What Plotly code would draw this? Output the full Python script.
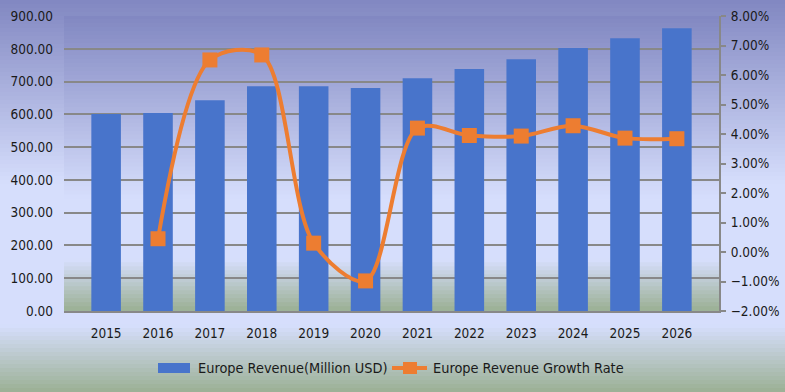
import plotly.graph_objects as go

years = ["2015", "2016", "2017", "2018", "2019", "2020", "2021", "2022", "2023", "2024", "2025", "2026"]
revenue = [601, 604, 643, 686, 686, 680, 710, 738, 768, 802, 832, 863]
growth = [None, 0.0045, 0.0651, 0.0668, 0.0030, -0.0098, 0.0420, 0.0395, 0.0393, 0.0428, 0.0386, 0.0384]

left_ticks = [0, 100, 200, 300, 400, 500, 600, 700, 800, 900]
right_ticks = [-0.02, -0.01, 0, 0.01, 0.02, 0.03, 0.04, 0.05, 0.06, 0.07, 0.08]

bar_name = "Europe Revenue(Million USD)"
line_name = "Europe Revenue Growth Rate"

W, H = 785, 392
ML, MR, MT, MB = 64, 66, 16, 81
pw = W - ML - MR
ph = H - MT - MB

BAR_COLOR = "#4874CB"
LINE_COLOR = "#ED7D31"
PURPLE = (129, 135, 193)
LIGHT = (214, 222, 252)
GREEN = (155, 176, 148)
FONT = "DejaVu Sans Condensed"


def px_x(px):
    return (px - ML) / pw


def px_y(py):
    return (H - MB - py) / ph


def lerp(a, b, t):
    return tuple(int(round(a[i] + (b[i] - a[i]) * t)) for i in range(3))


def color_at(f, stops):
    for (f0, c0), (f1, c1) in zip(stops, stops[1:]):
        if f0 <= f <= f1:
            return lerp(c0, c1, (f - f0) / (f1 - f0) if f1 > f0 else 0)
    return stops[-1][1]


shapes = []
# figure background gradient
fig_stops = [(0.0, PURPLE), (0.47, LIGHT), (0.83, LIGHT), (1.0, GREEN)]
n = 98
for i in range(n):
    top_px = H * i / n
    bot_px = H * (i + 1) / n
    c = color_at((i + 0.5) / n, fig_stops)
    shapes.append(dict(type="rect", xref="paper", yref="paper", layer="below",
                       x0=px_x(-2), x1=px_x(W + 2),
                       y0=px_y(bot_px + 0.6), y1=px_y(top_px),
                       fillcolor="rgb(%d,%d,%d)" % c, line=dict(width=0)))
# plot area gradient
plot_stops = [(0.0, PURPLE), (0.62, LIGHT), (0.83, LIGHT), (1.0, GREEN)]
m = 74
for i in range(m):
    f0 = i / m
    f1 = (i + 1) / m
    c = color_at((i + 0.5) / m, plot_stops)
    shapes.append(dict(type="rect", xref="paper", yref="paper", layer="below",
                       x0=0, x1=1, y0=1 - f1, y1=min(1, 1 - f0 + 0.003),
                       fillcolor="rgb(%d,%d,%d)" % c, line=dict(width=0)))

# custom legend keys
shapes.append(dict(type="rect", xref="paper", yref="paper",
                   x0=px_x(158), x1=px_x(190), y0=px_y(373), y1=px_y(363),
                   fillcolor=BAR_COLOR, line=dict(width=0)))
shapes.append(dict(type="line", xref="paper", yref="paper",
                   x0=px_x(392), x1=px_x(427), y0=px_y(368), y1=px_y(368),
                   line=dict(color=LINE_COLOR, width=4)))
shapes.append(dict(type="rect", xref="paper", yref="paper",
                   x0=px_x(403), x1=px_x(417), y0=px_y(374), y1=px_y(362),
                   fillcolor=LINE_COLOR, line=dict(width=0)))

annotations = [
    dict(text=bar_name, xref="paper", yref="paper", x=px_x(196), y=px_y(368),
         xanchor="left", yanchor="middle", showarrow=False,
         font=dict(family=FONT, size=14.4, color="#1a1a1a")),
    dict(text=line_name, xref="paper", yref="paper", x=px_x(431), y=px_y(368),
         xanchor="left", yanchor="middle", showarrow=False,
         font=dict(family=FONT, size=14.4, color="#1a1a1a")),
]

fig = go.Figure()
fig.add_trace(go.Bar(x=years, y=revenue, name=bar_name,
                     marker=dict(color=BAR_COLOR, line=dict(width=0)), yaxis="y"))
fig.add_trace(go.Scatter(x=years, y=growth, name=line_name, yaxis="y2",
                         mode="lines+markers",
                         line=dict(color=LINE_COLOR, width=4, shape="spline", smoothing=0.9),
                         marker=dict(symbol="square", size=15, color=LINE_COLOR),
                         connectgaps=False))

fig.update_layout(
    width=W, height=H,
    margin=dict(l=ML, r=MR, t=MT, b=MB, autoexpand=False),
    paper_bgcolor="rgb(214,222,252)",
    plot_bgcolor="rgba(0,0,0,0)",
    font=dict(family=FONT, size=13.5, color="#1a1a1a"),
    bargap=0.43,
    shapes=shapes,
    annotations=annotations,
    showlegend=False,
    xaxis=dict(type="category", showgrid=False, showline=True, linecolor="#888888", linewidth=2,
               ticks="", ticklabelstandoff=9, automargin=False),
    yaxis=dict(range=[0, 900], tickvals=left_ticks, tickformat=".2f", showgrid=True,
               gridcolor="#888888", gridwidth=1.5, zeroline=False, showline=False,
               ticks="", ticklabelstandoff=10, automargin=False),
    yaxis2=dict(range=[-0.02, 0.08], tickvals=right_ticks, tickformat=".2%", overlaying="y",
                side="right", showgrid=False, zeroline=False, showline=True,
                linecolor="#888888", linewidth=2, ticks="outside", ticklen=5,
                tickcolor="#888888", tickwidth=2, ticklabelstandoff=2, automargin=False),
)

fig.write_html("out.html", config={"displayModeBar": False},
               post_script="document.body.style.margin='0';document.body.style.overflow='hidden';")
